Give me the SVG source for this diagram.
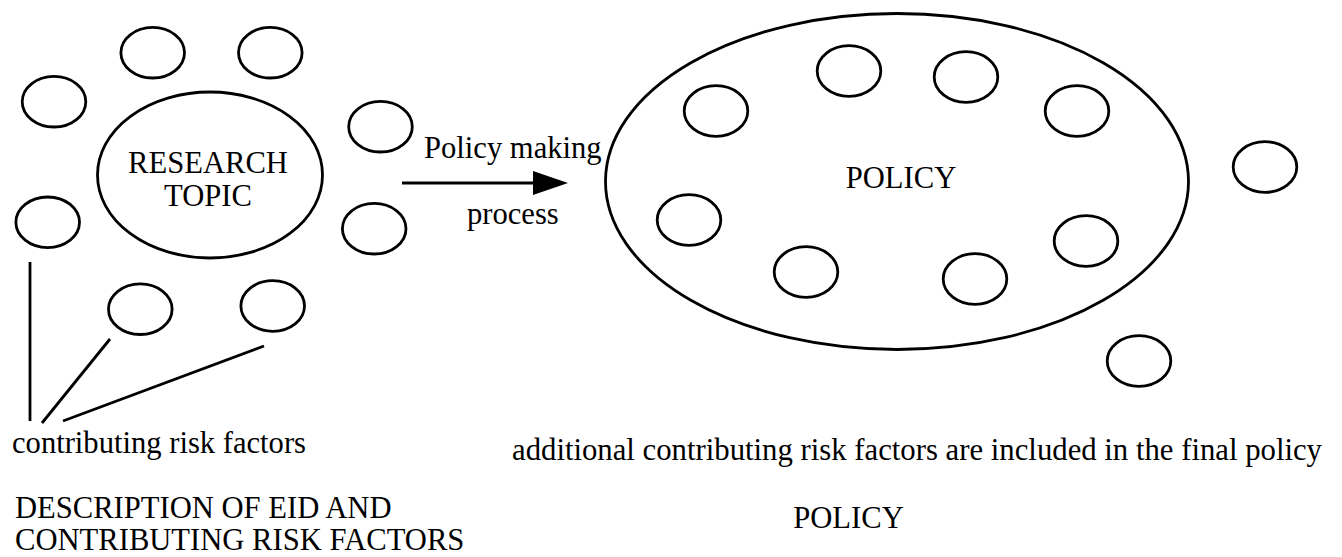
<svg xmlns="http://www.w3.org/2000/svg" width="1342" height="557" viewBox="0 0 1342 557">
<style>
.sh{fill:none;stroke:#000;stroke-width:2.8}
.t{font-family:"Liberation Serif","Times New Roman",serif;font-size:30.6px;fill:#000}
.m{text-anchor:middle}
</style>
<rect width="1342" height="557" fill="#fff"/>
<g id="research-topic">
<ellipse class="sh" cx="210" cy="175" rx="112.5" ry="83"/>
<text class="t m" x="208" y="173">RESEARCH</text>
<text class="t m" x="208" y="206">TOPIC</text>
</g>
<g id="left-factors">
<ellipse class="sh" cx="54" cy="101.7" rx="31.8" ry="25.3"/>
<ellipse class="sh" cx="152.7" cy="52.7" rx="31.8" ry="25.3"/>
<ellipse class="sh" cx="270.3" cy="52.7" rx="31.8" ry="25.3"/>
<ellipse class="sh" cx="380.5" cy="126.7" rx="31.8" ry="25.3"/>
<ellipse class="sh" cx="47.7" cy="222.3" rx="31.8" ry="25.3"/>
<ellipse class="sh" cx="374.2" cy="228.7" rx="31.8" ry="25.3"/>
<ellipse class="sh" cx="140.3" cy="309.2" rx="31.8" ry="25.3"/>
<ellipse class="sh" cx="272.7" cy="306" rx="31.8" ry="25.3"/>
</g>
<g id="policy">
<ellipse class="sh" cx="897" cy="181.5" rx="291.5" ry="168"/>
<text class="t m" x="901" y="188">POLICY</text>
</g>
<g id="right-factors">
<ellipse class="sh" cx="849" cy="71" rx="31.8" ry="25.3"/>
<ellipse class="sh" cx="966" cy="77" rx="31.8" ry="25.3"/>
<ellipse class="sh" cx="1077" cy="111" rx="31.8" ry="25.3"/>
<ellipse class="sh" cx="716" cy="111" rx="31.8" ry="25.3"/>
<ellipse class="sh" cx="689" cy="220" rx="31.8" ry="25.3"/>
<ellipse class="sh" cx="806" cy="272" rx="31.8" ry="25.3"/>
<ellipse class="sh" cx="975" cy="279" rx="31.8" ry="25.3"/>
<ellipse class="sh" cx="1086" cy="241" rx="31.8" ry="25.3"/>
<ellipse class="sh" cx="1265" cy="167" rx="31.8" ry="25.3"/>
<ellipse class="sh" cx="1139" cy="361" rx="31.8" ry="25.3"/>
</g>
<g id="connectors">
<line class="sh" x1="402" y1="183" x2="536" y2="183"/>
<polygon points="533,171 568,183 533,195" fill="#000"/>
<line class="sh" x1="30" y1="262" x2="30" y2="421"/>
<line class="sh" x1="110" y1="339" x2="42" y2="423"/>
<line class="sh" x1="264" y1="346" x2="63" y2="421"/>
</g>
<g id="labels">
<text class="t" x="424" y="158">Policy making</text>
<text class="t" x="467" y="224">process</text>
<text class="t" x="12" y="453">contributing risk factors</text>
<text class="t" x="512" y="460" textLength="810" lengthAdjust="spacingAndGlyphs">additional contributing risk factors are included in the final policy</text>
<text class="t" x="15" y="518">DESCRIPTION OF EID AND</text>
<text class="t" x="15" y="550">CONTRIBUTING RISK FACTORS</text>
<text class="t m" x="848.5" y="528">POLICY</text>
</g>
</svg>
